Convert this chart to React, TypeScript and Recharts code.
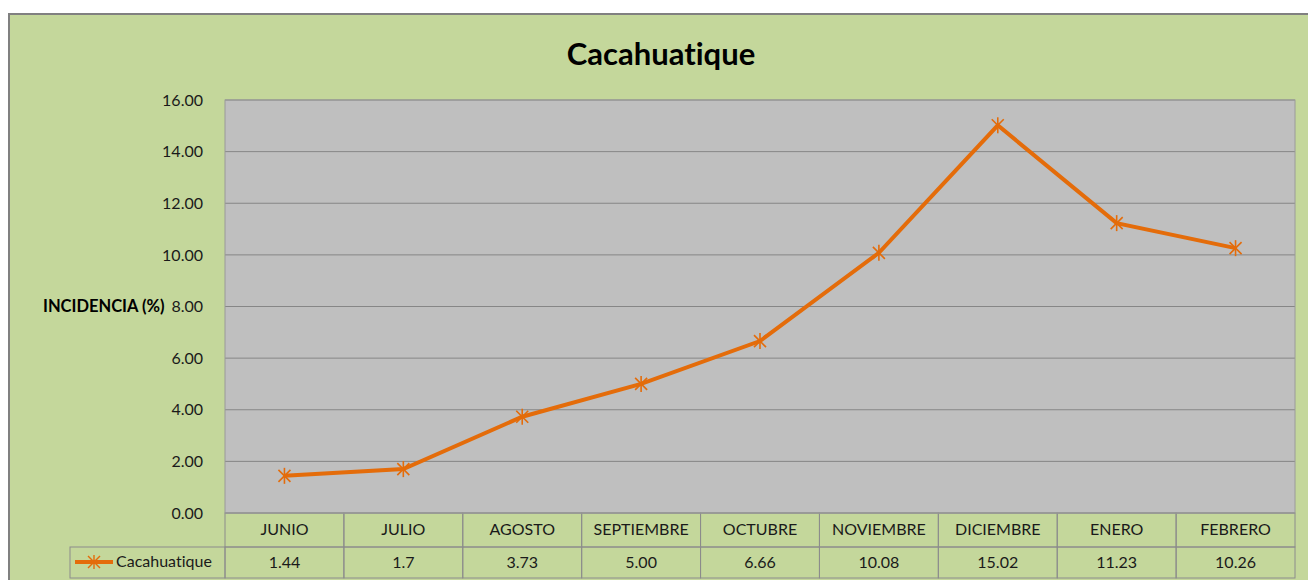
import React from "react";
import { LineChart, Line, XAxis, YAxis, CartesianGrid } from "recharts";

const months = ["JUNIO", "JULIO", "AGOSTO", "SEPTIEMBRE", "OCTUBRE", "NOVIEMBRE", "DICIEMBRE", "ENERO", "FEBRERO"];
const incidence = [1.44, 1.7, 3.73, 5.0, 6.66, 10.08, 15.02, 11.23, 10.26];
const tableLabels = ["1.44", "1.7", "3.73", "5.00", "6.66", "10.08", "15.02", "11.23", "10.26"];
const yTicks = [0, 2, 4, 6, 8, 10, 12, 14, 16];
const seriesName = "Cacahuatique";
const title = "Cacahuatique";
const yLabel = "INCIDENCIA (%)";

const data = months.map((m, i) => ({ month: m, value: incidence[i], label: tableLabels[i] }));

const W = 1308;
const H = 580;
const PLOT_LEFT = 225;
const PLOT_RIGHT = 1295;
const PLOT_TOP = 100;
const PLOT_BOTTOM = 513;
const COL_W = (PLOT_RIGHT - PLOT_LEFT) / months.length;
const ORANGE = "#E46C0A";
const GREEN = "#C4D79B";
const PLOT_BG = "#BFBFBF";
const BORDER = "#8C8C8C";
const FONT = "Lato, 'Open Sans', sans-serif";

const StarDot = (props: any) => {
  const { cx, cy } = props;
  if (cx == null || cy == null) return null;
  const r = 7;
  const d = 6;
  return (
    <g stroke={ORANGE} strokeWidth={1.6}>
      <line x1={cx} y1={cy - r - 1} x2={cx} y2={cy + r + 1} />
      <line x1={cx - d} y1={cy - d} x2={cx + d} y2={cy + d} />
      <line x1={cx - d} y1={cy + d} x2={cx + d} y2={cy - d} />
    </g>
  );
};

const TableTick = (props: any) => {
  const { x, payload, index } = props;
  const left = x - COL_W / 2;
  const row1 = PLOT_BOTTOM;
  const row2 = 547;
  const row3 = 578;
  return (
    <g>
      <rect x={left} y={row1} width={COL_W} height={row2 - row1} fill="none" stroke={BORDER} strokeWidth={1} />
      <rect x={left} y={row2} width={COL_W} height={row3 - row2} fill="none" stroke={BORDER} strokeWidth={1} />
      <text x={x} y={(row1 + row2) / 2 + 1} textAnchor="middle" dominantBaseline="middle" fontSize={16} fill="#1a1a1a" fontFamily={FONT}>
        {payload.value}
      </text>
      <text x={x} y={(row2 + row3) / 2 + 1} textAnchor="middle" dominantBaseline="middle" fontSize={16} fill="#1a1a1a" fontFamily={FONT}>
        {tableLabels[index]}
      </text>
    </g>
  );
};

export default function App() {
  return (
    <div style={{ position: "absolute", left: 0, top: 0, width: W, height: H, background: "#fff", overflow: "hidden", fontVariantLigatures: "none" }}>
      <div
        style={{
          position: "absolute",
          left: 8,
          top: 13,
          width: W - 8 + 10,
          height: H,
          background: GREEN,
          borderTop: "2px solid #808080",
          borderLeft: "2px solid #808080",
          boxSizing: "border-box",
        }}
      />
      <div
        style={{
          position: "absolute",
          left: 0,
          width: W,
          top: 33,
          textAlign: "center",
          fontFamily: FONT,
          fontWeight: 700,
          fontSize: 31,
          lineHeight: "40px",
          color: "#000",
          paddingLeft: 14,
          boxSizing: "border-box",
          fontVariantLigatures: "none",
        }}
      >
        {title}
      </div>
      <div
        style={{
          position: "absolute",
          left: 43,
          top: 296,
          fontFamily: FONT,
          fontWeight: 700,
          fontSize: 16.5,
          lineHeight: "20px",
          color: "#000",
          whiteSpace: "nowrap",
        }}
      >
        {yLabel}
      </div>
      <div style={{ position: "absolute", left: 0, top: 0 }}>
        <LineChart
          width={W}
          height={H}
          data={data}
          margin={{ top: PLOT_TOP, right: W - PLOT_RIGHT, bottom: 0, left: PLOT_LEFT - 60 }}
        >
          <CartesianGrid vertical={false} stroke="#868686" strokeWidth={1} fill={PLOT_BG} fillOpacity={1} />
          <XAxis
            dataKey="month"
            height={H - PLOT_BOTTOM}
            axisLine={false}
            tickLine={false}
            interval={0}
            padding={{ left: COL_W / 2, right: COL_W / 2 }}
            tick={<TableTick />}
          />
          <YAxis
            width={60}
            domain={[0, 16]}
            ticks={yTicks}
            axisLine={false}
            tickLine={false}
            tickMargin={16}
            tick={{ fontSize: 16, fill: "#1a1a1a", fontFamily: FONT }}
            tickFormatter={(v: number) => v.toFixed(2)}
          />
          <Line
            dataKey="value"
            name={seriesName}
            stroke={ORANGE}
            strokeWidth={4}
            dot={<StarDot />}
            activeDot={false}
            isAnimationActive={false}
          />
        </LineChart>
      </div>
      <svg style={{ position: "absolute", left: 0, top: 0, pointerEvents: "none" }} width={W} height={H}>
        <rect x={PLOT_LEFT} y={PLOT_TOP} width={PLOT_RIGHT - PLOT_LEFT} height={PLOT_BOTTOM - PLOT_TOP} fill="none" stroke="#9A9A9A" strokeWidth={1} />
        <rect x={70} y={547} width={PLOT_LEFT - 70} height={31} fill="none" stroke={BORDER} strokeWidth={1} />
        <line x1={75} y1={562} x2={113} y2={562} stroke={ORANGE} strokeWidth={4} />
        <g stroke={ORANGE} strokeWidth={1.4}>
          <line x1={94} y1={555} x2={94} y2={569} />
          <line x1={88} y1={556} x2={100} y2={568} />
          <line x1={88} y1={568} x2={100} y2={556} />
        </g>
        <text x={116} y={563} dominantBaseline="middle" fontSize={16} fill="#1a1a1a" fontFamily={FONT}>
          {seriesName}
        </text>
      </svg>
    </div>
  );
}
